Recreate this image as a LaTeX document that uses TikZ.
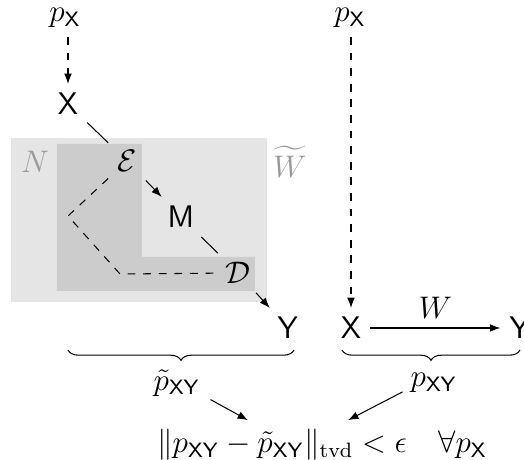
\documentclass[tikz,border=0pt]{standalone}
\usepackage{amsmath,amssymb}
\usetikzlibrary{arrows.meta,calc,decorations.pathreplacing}

\begin{document}
\begin{tikzpicture}[
    x=0.3846pt, y=-0.3846pt,
    font=\large,
    conn/.style={-{Latex[length=4pt,width=3pt]}},
    dconn/.style={conn, dashed},
    faint/.style={text=black!40},
    ubrace/.style={decorate, decoration={brace, amplitude=4pt, mirror}}
]
\useasboundingbox (0,0) rectangle (524,460);

% Simulated channel region and the coding part
\fill[black!10] (11,138) rectangle (267,302);
\fill[black!20] (57,144) -- (142,144) -- (142,257) -- (255,257) -- (255,291) -- (57,291) -- cycle;
\node[faint] (noise) at (35,162) {$N$};
\node[faint] (wsim) at (290,162) {$\widetilde{W}$};

% Left chain
\node (pxl) at (65,18) {$p_{\mathsf{X}}$};
\node (xl) at (68,104) {$\mathsf{X}$};
\node (enc) at (127,161) {$\mathcal{E}$};
\node (msg) at (181,217) {$\mathsf{M}$};
\node (dec) at (238,273) {$\mathcal{D}$};
\node (yl) at (288,328) {$\mathsf{Y}$};

\draw[dconn] (xl |- pxl.south) -- (xl);
\draw (xl) -- (enc);
\draw[conn] (enc) -- (msg);
\draw (msg) -- (dec);
\draw[conn] (dec) -- (yl);

% Shared randomness
\coordinate (bendA) at (68,216);
\coordinate (bendB) at (120,274);
\draw[dashed] (enc) -- (bendA) -- (bendB) -- (dec);

% Right chain
\node (pxr) at (350,18) {$p_{\mathsf{X}}$};
\node (xr) at (351,328) {$\mathsf{X}$};
\node (yr) at (520,328) {$\mathsf{Y}$};
\draw[dconn] (xr |- pxr.south) -- (xr);
\draw[conn] (xr) -- node[above] {$W$} (yr);

% Joint distributions
\draw[ubrace] (68,350) -- (294,350);
\draw[ubrace] (342,350) -- (520,350);
\node (ptil) at (177,383) {$\tilde{p}_{\mathsf{XY}}$};
\node (pxy) at (434,383) {$p_{\mathsf{XY}}$};
\node (tvd) at (322,445) {$\|p_{\mathsf{XY}}-\tilde{p}_{\mathsf{XY}}\|_{\mathrm{tvd}}<\epsilon\quad\forall p_{\mathsf{X}}$};

\draw[conn] ($(ptil.south east)+(1,-6)$) -- ($(tvd.north)+(-74,0)$);
\draw[conn] ($(pxy.south west)+(1,-10)$) -- ($(tvd.north)+(26,0)$);
\end{tikzpicture}
\end{document}
